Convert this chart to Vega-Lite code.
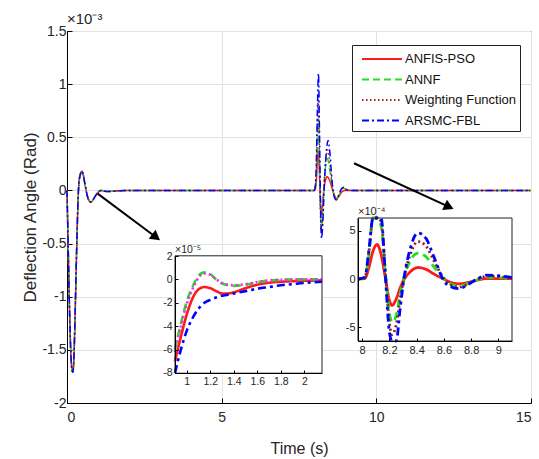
{
  "$schema": "https://vega.github.io/schema/vega-lite/v6.json",
  "width": 464,
  "height": 372,
  "autosize": {"type": "none"},
  "padding": {"left": 67, "top": 31, "right": 8, "bottom": 56},
  "config": {
    "font": "Liberation Sans",
    "view": {"stroke": "black", "strokeWidth": 1},
    "axis": {"labelFont": "Liberation Sans", "titleFont": "Liberation Sans", "labelColor": "#262626", "titleColor": "#262626", "titleFontWeight": "normal", "domainColor": "black", "tickColor": "black"}
  },
  "datasets": {
    "main": [
      {"series":"ANFIS-PSO","t":0,"v":0},{"series":"ANFIS-PSO","t":0.04,"v":-0.55},{"series":"ANFIS-PSO","t":0.08,"v":-1.1},{"series":"ANFIS-PSO","t":0.12,"v":-1.5},{"series":"ANFIS-PSO","t":0.16,"v":-1.69},{"series":"ANFIS-PSO","t":0.19,"v":-1.71},{"series":"ANFIS-PSO","t":0.22,"v":-1.6},{"series":"ANFIS-PSO","t":0.26,"v":-1.2},{"series":"ANFIS-PSO","t":0.3,"v":-0.7},{"series":"ANFIS-PSO","t":0.34,"v":-0.25},{"series":"ANFIS-PSO","t":0.38,"v":0.05},{"series":"ANFIS-PSO","t":0.43,"v":0.15},{"series":"ANFIS-PSO","t":0.48,"v":0.18},{"series":"ANFIS-PSO","t":0.53,"v":0.14},{"series":"ANFIS-PSO","t":0.58,"v":0.06},{"series":"ANFIS-PSO","t":0.64,"v":-0.03},{"series":"ANFIS-PSO","t":0.7,"v":-0.09},{"series":"ANFIS-PSO","t":0.77,"v":-0.11},{"series":"ANFIS-PSO","t":0.84,"v":-0.09},{"series":"ANFIS-PSO","t":0.9,"v":-0.06},{"series":"ANFIS-PSO","t":1.0,"v":-0.02},{"series":"ANFIS-PSO","t":1.1,"v":0},{"series":"ANFIS-PSO","t":1.3,"v":-0.01},{"series":"ANFIS-PSO","t":1.6,"v":-0.005},{"series":"ANFIS-PSO","t":2.0,"v":0},
      {"series":"ANFIS-PSO","t":8.0,"v":0},{"series":"ANFIS-PSO","t":8.05,"v":0.05},{"series":"ANFIS-PSO","t":8.09,"v":0.25},{"series":"ANFIS-PSO","t":8.12,"v":0.37},{"series":"ANFIS-PSO","t":8.15,"v":0.25},{"series":"ANFIS-PSO","t":8.18,"v":0},{"series":"ANFIS-PSO","t":8.21,"v":-0.23},{"series":"ANFIS-PSO","t":8.25,"v":-0.17},{"series":"ANFIS-PSO","t":8.3,"v":0},{"series":"ANFIS-PSO","t":8.36,"v":0.1},{"series":"ANFIS-PSO","t":8.41,"v":0.13},{"series":"ANFIS-PSO","t":8.48,"v":0.1},{"series":"ANFIS-PSO","t":8.56,"v":0.03},{"series":"ANFIS-PSO","t":8.64,"v":-0.04},{"series":"ANFIS-PSO","t":8.72,"v":-0.08},{"series":"ANFIS-PSO","t":8.8,"v":-0.05},{"series":"ANFIS-PSO","t":8.9,"v":-0.01},{"series":"ANFIS-PSO","t":9.0,"v":0},{"series":"ANFIS-PSO","t":15,"v":0},

      {"series":"ANNF","t":0,"v":0},{"series":"ANNF","t":0.04,"v":-0.55},{"series":"ANNF","t":0.08,"v":-1.1},{"series":"ANNF","t":0.12,"v":-1.5},{"series":"ANNF","t":0.16,"v":-1.69},{"series":"ANNF","t":0.19,"v":-1.71},{"series":"ANNF","t":0.22,"v":-1.6},{"series":"ANNF","t":0.26,"v":-1.2},{"series":"ANNF","t":0.3,"v":-0.7},{"series":"ANNF","t":0.34,"v":-0.25},{"series":"ANNF","t":0.38,"v":0.05},{"series":"ANNF","t":0.43,"v":0.15},{"series":"ANNF","t":0.48,"v":0.18},{"series":"ANNF","t":0.53,"v":0.14},{"series":"ANNF","t":0.58,"v":0.06},{"series":"ANNF","t":0.64,"v":-0.03},{"series":"ANNF","t":0.7,"v":-0.09},{"series":"ANNF","t":0.77,"v":-0.11},{"series":"ANNF","t":0.84,"v":-0.09},{"series":"ANNF","t":0.9,"v":-0.06},{"series":"ANNF","t":1.0,"v":-0.02},{"series":"ANNF","t":1.1,"v":0},{"series":"ANNF","t":1.3,"v":-0.01},{"series":"ANNF","t":1.6,"v":-0.005},{"series":"ANNF","t":2.0,"v":0},
      {"series":"ANNF","t":8.0,"v":0},{"series":"ANNF","t":8.05,"v":0.1},{"series":"ANNF","t":8.09,"v":0.45},{"series":"ANNF","t":8.12,"v":0.68},{"series":"ANNF","t":8.15,"v":0.4},{"series":"ANNF","t":8.18,"v":0},{"series":"ANNF","t":8.22,"v":-0.38},{"series":"ANNF","t":8.26,"v":-0.25},{"series":"ANNF","t":8.31,"v":0.05},{"series":"ANNF","t":8.37,"v":0.25},{"series":"ANNF","t":8.42,"v":0.3},{"series":"ANNF","t":8.49,"v":0.2},{"series":"ANNF","t":8.56,"v":0.06},{"series":"ANNF","t":8.63,"v":-0.04},{"series":"ANNF","t":8.7,"v":-0.08},{"series":"ANNF","t":8.78,"v":-0.05},{"series":"ANNF","t":8.86,"v":0},{"series":"ANNF","t":8.94,"v":0.02},{"series":"ANNF","t":9.02,"v":0.01},{"series":"ANNF","t":9.15,"v":0},{"series":"ANNF","t":15,"v":0},

      {"series":"Weighting Function","t":0,"v":0},{"series":"Weighting Function","t":0.04,"v":-0.55},{"series":"Weighting Function","t":0.08,"v":-1.1},{"series":"Weighting Function","t":0.12,"v":-1.5},{"series":"Weighting Function","t":0.16,"v":-1.69},{"series":"Weighting Function","t":0.19,"v":-1.71},{"series":"Weighting Function","t":0.22,"v":-1.6},{"series":"Weighting Function","t":0.26,"v":-1.2},{"series":"Weighting Function","t":0.3,"v":-0.7},{"series":"Weighting Function","t":0.34,"v":-0.25},{"series":"Weighting Function","t":0.38,"v":0.05},{"series":"Weighting Function","t":0.43,"v":0.15},{"series":"Weighting Function","t":0.48,"v":0.18},{"series":"Weighting Function","t":0.53,"v":0.14},{"series":"Weighting Function","t":0.58,"v":0.06},{"series":"Weighting Function","t":0.64,"v":-0.03},{"series":"Weighting Function","t":0.7,"v":-0.09},{"series":"Weighting Function","t":0.77,"v":-0.11},{"series":"Weighting Function","t":0.84,"v":-0.09},{"series":"Weighting Function","t":0.9,"v":-0.06},{"series":"Weighting Function","t":1.0,"v":-0.02},{"series":"Weighting Function","t":1.1,"v":0},{"series":"Weighting Function","t":1.3,"v":-0.01},{"series":"Weighting Function","t":1.6,"v":-0.005},{"series":"Weighting Function","t":2.0,"v":0},
      {"series":"Weighting Function","t":8.0,"v":0},{"series":"Weighting Function","t":8.05,"v":0.12},{"series":"Weighting Function","t":8.09,"v":0.55},{"series":"Weighting Function","t":8.12,"v":0.85},{"series":"Weighting Function","t":8.15,"v":0.5},{"series":"Weighting Function","t":8.18,"v":0},{"series":"Weighting Function","t":8.22,"v":-0.4},{"series":"Weighting Function","t":8.26,"v":-0.27},{"series":"Weighting Function","t":8.31,"v":0.05},{"series":"Weighting Function","t":8.37,"v":0.3},{"series":"Weighting Function","t":8.43,"v":0.38},{"series":"Weighting Function","t":8.49,"v":0.27},{"series":"Weighting Function","t":8.56,"v":0.08},{"series":"Weighting Function","t":8.63,"v":-0.04},{"series":"Weighting Function","t":8.7,"v":-0.09},{"series":"Weighting Function","t":8.78,"v":-0.05},{"series":"Weighting Function","t":8.86,"v":0},{"series":"Weighting Function","t":8.94,"v":0.025},{"series":"Weighting Function","t":9.02,"v":0.01},{"series":"Weighting Function","t":9.15,"v":0},{"series":"Weighting Function","t":15,"v":0},

      {"series":"ARSMC-FBL","t":0,"v":0},{"series":"ARSMC-FBL","t":0.04,"v":-0.55},{"series":"ARSMC-FBL","t":0.08,"v":-1.1},{"series":"ARSMC-FBL","t":0.12,"v":-1.5},{"series":"ARSMC-FBL","t":0.16,"v":-1.69},{"series":"ARSMC-FBL","t":0.19,"v":-1.71},{"series":"ARSMC-FBL","t":0.22,"v":-1.6},{"series":"ARSMC-FBL","t":0.26,"v":-1.2},{"series":"ARSMC-FBL","t":0.3,"v":-0.7},{"series":"ARSMC-FBL","t":0.34,"v":-0.25},{"series":"ARSMC-FBL","t":0.38,"v":0.05},{"series":"ARSMC-FBL","t":0.43,"v":0.15},{"series":"ARSMC-FBL","t":0.48,"v":0.18},{"series":"ARSMC-FBL","t":0.53,"v":0.14},{"series":"ARSMC-FBL","t":0.58,"v":0.06},{"series":"ARSMC-FBL","t":0.64,"v":-0.03},{"series":"ARSMC-FBL","t":0.7,"v":-0.09},{"series":"ARSMC-FBL","t":0.77,"v":-0.11},{"series":"ARSMC-FBL","t":0.84,"v":-0.09},{"series":"ARSMC-FBL","t":0.9,"v":-0.06},{"series":"ARSMC-FBL","t":1.0,"v":-0.02},{"series":"ARSMC-FBL","t":1.1,"v":0},{"series":"ARSMC-FBL","t":1.3,"v":-0.01},{"series":"ARSMC-FBL","t":1.6,"v":-0.005},{"series":"ARSMC-FBL","t":2.0,"v":0},
      {"series":"ARSMC-FBL","t":8.0,"v":0},{"series":"ARSMC-FBL","t":8.05,"v":0.15},{"series":"ARSMC-FBL","t":8.09,"v":0.7},{"series":"ARSMC-FBL","t":8.13,"v":1.1},{"series":"ARSMC-FBL","t":8.16,"v":0.6},{"series":"ARSMC-FBL","t":8.19,"v":0},{"series":"ARSMC-FBL","t":8.23,"v":-0.45},{"series":"ARSMC-FBL","t":8.27,"v":-0.3},{"series":"ARSMC-FBL","t":8.32,"v":0.05},{"series":"ARSMC-FBL","t":8.38,"v":0.35},{"series":"ARSMC-FBL","t":8.44,"v":0.47},{"series":"ARSMC-FBL","t":8.5,"v":0.35},{"series":"ARSMC-FBL","t":8.56,"v":0.12},{"series":"ARSMC-FBL","t":8.62,"v":-0.04},{"series":"ARSMC-FBL","t":8.7,"v":-0.09},{"series":"ARSMC-FBL","t":8.78,"v":-0.05},{"series":"ARSMC-FBL","t":8.86,"v":0.01},{"series":"ARSMC-FBL","t":8.94,"v":0.03},{"series":"ARSMC-FBL","t":9.02,"v":0.01},{"series":"ARSMC-FBL","t":9.15,"v":0},{"series":"ARSMC-FBL","t":15,"v":0}
    ],
    "zoom1": [
      {"series":"ANFIS-PSO","t":0.9,"v":-7},{"series":"ANFIS-PSO","t":0.95,"v":-4.9},{"series":"ANFIS-PSO","t":1.0,"v":-3.0},{"series":"ANFIS-PSO","t":1.05,"v":-1.6},{"series":"ANFIS-PSO","t":1.1,"v":-0.85},{"series":"ANFIS-PSO","t":1.15,"v":-0.65},{"series":"ANFIS-PSO","t":1.2,"v":-0.75},{"series":"ANFIS-PSO","t":1.25,"v":-1.0},{"series":"ANFIS-PSO","t":1.3,"v":-1.2},{"series":"ANFIS-PSO","t":1.35,"v":-1.2},{"series":"ANFIS-PSO","t":1.4,"v":-1.1},{"series":"ANFIS-PSO","t":1.5,"v":-0.75},{"series":"ANFIS-PSO","t":1.6,"v":-0.45},{"series":"ANFIS-PSO","t":1.7,"v":-0.28},{"series":"ANFIS-PSO","t":1.8,"v":-0.2},{"series":"ANFIS-PSO","t":1.9,"v":-0.15},{"series":"ANFIS-PSO","t":2.0,"v":-0.12},{"series":"ANFIS-PSO","t":2.15,"v":-0.08},
      {"series":"ANNF","t":0.9,"v":-6},{"series":"ANNF","t":0.95,"v":-3.8},{"series":"ANNF","t":1.0,"v":-1.9},{"series":"ANNF","t":1.05,"v":-0.6},{"series":"ANNF","t":1.1,"v":0.3},{"series":"ANNF","t":1.15,"v":0.6},{"series":"ANNF","t":1.2,"v":0.45},{"series":"ANNF","t":1.25,"v":0},{"series":"ANNF","t":1.3,"v":-0.35},{"series":"ANNF","t":1.35,"v":-0.5},{"series":"ANNF","t":1.4,"v":-0.55},{"series":"ANNF","t":1.5,"v":-0.45},{"series":"ANNF","t":1.6,"v":-0.25},{"series":"ANNF","t":1.7,"v":-0.1},{"series":"ANNF","t":1.8,"v":-0.05},{"series":"ANNF","t":1.9,"v":0},{"series":"ANNF","t":2.0,"v":0},{"series":"ANNF","t":2.15,"v":0},
      {"series":"Weighting Function","t":0.9,"v":-6.2},{"series":"Weighting Function","t":0.95,"v":-4},{"series":"Weighting Function","t":1.0,"v":-2.1},{"series":"Weighting Function","t":1.05,"v":-0.8},{"series":"Weighting Function","t":1.1,"v":0.15},{"series":"Weighting Function","t":1.15,"v":0.5},{"series":"Weighting Function","t":1.2,"v":0.4},{"series":"Weighting Function","t":1.25,"v":0},{"series":"Weighting Function","t":1.3,"v":-0.3},{"series":"Weighting Function","t":1.35,"v":-0.45},{"series":"Weighting Function","t":1.4,"v":-0.5},{"series":"Weighting Function","t":1.5,"v":-0.4},{"series":"Weighting Function","t":1.6,"v":-0.22},{"series":"Weighting Function","t":1.7,"v":-0.08},{"series":"Weighting Function","t":1.8,"v":-0.03},{"series":"Weighting Function","t":1.9,"v":0},{"series":"Weighting Function","t":2.0,"v":0},{"series":"Weighting Function","t":2.15,"v":0},
      {"series":"ARSMC-FBL","t":0.9,"v":-8},{"series":"ARSMC-FBL","t":0.95,"v":-6},{"series":"ARSMC-FBL","t":1.0,"v":-4.4},{"series":"ARSMC-FBL","t":1.05,"v":-3.3},{"series":"ARSMC-FBL","t":1.1,"v":-2.5},{"series":"ARSMC-FBL","t":1.15,"v":-2.0},{"series":"ARSMC-FBL","t":1.2,"v":-1.75},{"series":"ARSMC-FBL","t":1.25,"v":-1.55},{"series":"ARSMC-FBL","t":1.3,"v":-1.4},{"series":"ARSMC-FBL","t":1.35,"v":-1.3},{"series":"ARSMC-FBL","t":1.4,"v":-1.2},{"series":"ARSMC-FBL","t":1.5,"v":-1.0},{"series":"ARSMC-FBL","t":1.6,"v":-0.8},{"series":"ARSMC-FBL","t":1.7,"v":-0.65},{"series":"ARSMC-FBL","t":1.8,"v":-0.5},{"series":"ARSMC-FBL","t":1.9,"v":-0.4},{"series":"ARSMC-FBL","t":2.0,"v":-0.3},{"series":"ARSMC-FBL","t":2.15,"v":-0.2}
    ],
    "zoom2": [
      {"series":"ANFIS-PSO","t":7.97,"v":0},{"series":"ANFIS-PSO","t":8.02,"v":0.05},{"series":"ANFIS-PSO","t":8.05,"v":1.2},{"series":"ANFIS-PSO","t":8.08,"v":2.9},{"series":"ANFIS-PSO","t":8.11,"v":3.6},{"series":"ANFIS-PSO","t":8.14,"v":2.5},{"series":"ANFIS-PSO","t":8.17,"v":0.2},{"series":"ANFIS-PSO","t":8.2,"v":-2.2},{"series":"ANFIS-PSO","t":8.22,"v":-2.75},{"series":"ANFIS-PSO","t":8.25,"v":-2.1},{"series":"ANFIS-PSO","t":8.28,"v":-0.9},{"series":"ANFIS-PSO","t":8.31,"v":0},{"series":"ANFIS-PSO","t":8.35,"v":0.7},{"series":"ANFIS-PSO","t":8.41,"v":1.2},{"series":"ANFIS-PSO","t":8.47,"v":1.0},{"series":"ANFIS-PSO","t":8.53,"v":0.5},{"series":"ANFIS-PSO","t":8.6,"v":0},{"series":"ANFIS-PSO","t":8.65,"v":-0.35},{"series":"ANFIS-PSO","t":8.71,"v":-0.5},{"series":"ANFIS-PSO","t":8.78,"v":-0.35},{"series":"ANFIS-PSO","t":8.85,"v":-0.1},{"series":"ANFIS-PSO","t":8.92,"v":0.05},{"series":"ANFIS-PSO","t":9.0,"v":0.05},{"series":"ANFIS-PSO","t":9.1,"v":0.03},
      {"series":"ANNF","t":7.97,"v":0},{"series":"ANNF","t":8.02,"v":0.1},{"series":"ANNF","t":8.05,"v":2.5},{"series":"ANNF","t":8.08,"v":6.5},{"series":"ANNF","t":8.11,"v":8.5},{"series":"ANNF","t":8.14,"v":5.5},{"series":"ANNF","t":8.17,"v":0.8},{"series":"ANNF","t":8.2,"v":-3.5},{"series":"ANNF","t":8.22,"v":-4.5},{"series":"ANNF","t":8.25,"v":-3.8},{"series":"ANNF","t":8.28,"v":-1.5},{"series":"ANNF","t":8.31,"v":0.3},{"series":"ANNF","t":8.35,"v":1.8},{"series":"ANNF","t":8.41,"v":2.7},{"series":"ANNF","t":8.47,"v":2.3},{"series":"ANNF","t":8.53,"v":1.2},{"series":"ANNF","t":8.6,"v":0},{"series":"ANNF","t":8.65,"v":-0.5},{"series":"ANNF","t":8.71,"v":-0.75},{"series":"ANNF","t":8.78,"v":-0.45},{"series":"ANNF","t":8.85,"v":-0.05},{"series":"ANNF","t":8.92,"v":0.2},{"series":"ANNF","t":9.0,"v":0.15},{"series":"ANNF","t":9.1,"v":0.05},
      {"series":"Weighting Function","t":7.97,"v":0},{"series":"Weighting Function","t":8.02,"v":0.1},{"series":"Weighting Function","t":8.05,"v":2.8},{"series":"Weighting Function","t":8.08,"v":7.5},{"series":"Weighting Function","t":8.11,"v":9.5},{"series":"Weighting Function","t":8.14,"v":6},{"series":"Weighting Function","t":8.17,"v":0.9},{"series":"Weighting Function","t":8.2,"v":-4.5},{"series":"Weighting Function","t":8.22,"v":-5.8},{"series":"Weighting Function","t":8.25,"v":-4.8},{"series":"Weighting Function","t":8.28,"v":-2},{"series":"Weighting Function","t":8.31,"v":0.3},{"series":"Weighting Function","t":8.35,"v":2.4},{"series":"Weighting Function","t":8.41,"v":3.9},{"series":"Weighting Function","t":8.47,"v":3.4},{"series":"Weighting Function","t":8.53,"v":1.8},{"series":"Weighting Function","t":8.6,"v":0.1},{"series":"Weighting Function","t":8.65,"v":-0.6},{"series":"Weighting Function","t":8.71,"v":-0.85},{"series":"Weighting Function","t":8.78,"v":-0.5},{"series":"Weighting Function","t":8.85,"v":0},{"series":"Weighting Function","t":8.92,"v":0.3},{"series":"Weighting Function","t":9.0,"v":0.25},{"series":"Weighting Function","t":9.1,"v":0.1},
      {"series":"ARSMC-FBL","t":7.97,"v":0},{"series":"ARSMC-FBL","t":8.02,"v":0.2},{"series":"ARSMC-FBL","t":8.05,"v":3},{"series":"ARSMC-FBL","t":8.08,"v":8.5},{"series":"ARSMC-FBL","t":8.11,"v":11},{"series":"ARSMC-FBL","t":8.14,"v":6.5},{"series":"ARSMC-FBL","t":8.17,"v":0.5},{"series":"ARSMC-FBL","t":8.2,"v":-5.5},{"series":"ARSMC-FBL","t":8.22,"v":-7.5},{"series":"ARSMC-FBL","t":8.25,"v":-6.5},{"series":"ARSMC-FBL","t":8.28,"v":-3},{"series":"ARSMC-FBL","t":8.31,"v":0.3},{"series":"ARSMC-FBL","t":8.35,"v":3},{"series":"ARSMC-FBL","t":8.41,"v":4.8},{"series":"ARSMC-FBL","t":8.47,"v":4.2},{"series":"ARSMC-FBL","t":8.53,"v":2.2},{"series":"ARSMC-FBL","t":8.6,"v":-0.2},{"series":"ARSMC-FBL","t":8.65,"v":-0.8},{"series":"ARSMC-FBL","t":8.71,"v":-1.0},{"series":"ARSMC-FBL","t":8.78,"v":-0.55},{"series":"ARSMC-FBL","t":8.85,"v":0.05},{"series":"ARSMC-FBL","t":8.92,"v":0.4},{"series":"ARSMC-FBL","t":9.0,"v":0.35},{"series":"ARSMC-FBL","t":9.1,"v":0.15}
    ],
    "arrows": [
      {"id":1,"t":0.99,"v":-0.03,"t2":2.88,"v2":-0.44},
      {"id":2,"t":9.28,"v":0.256,"t2":12.35,"v2":-0.155}
    ]
  },
  "layer": [
    {
      "layer": [
        {
          "data": {"name": "main"},
          "mark": {"type": "line", "strokeWidth": 1.5, "interpolate": "monotone"},
          "encoding": {
            "x": {"field": "t", "type": "quantitative", "scale": {"domain": [0, 15], "nice": false, "zero": false},
              "axis": {"values": [0, 5, 10, 15], "title": "Time (s)", "titleFontSize": 16, "labelFontSize": 14, "grid": true, "gridColor": "#e2e2e2", "tickSize": -5, "labelPadding": 12, "titlePadding": 16, "labelExpr": "replace(datum.label,'\u2212','-')"}},
            "y": {"field": "v", "type": "quantitative", "scale": {"domain": [-2, 1.5], "nice": false, "zero": false},
              "axis": {"values": [-2, -1.5, -1, -0.5, 0, 0.5, 1, 1.5], "format": "~g", "title": "Deflection Angle (Rad)", "titleFontSize": 17, "labelFontSize": 14, "grid": true, "gridColor": "#e2e2e2", "tickSize": -5, "labelPadding": 6, "titlePadding": 2, "labelExpr": "replace(datum.label,'\u2212','-')"}},
            "color": {"field": "series", "type": "nominal",
              "scale": {"domain": ["ANFIS-PSO", "ANNF", "Weighting Function", "ARSMC-FBL"], "range": ["#ff1a1a", "#22e022", "#9c2a1c", "#0000ff"]},
              "legend": {"orient": "none", "legendX": 285, "legendY": 14, "title": null, "fillColor": "white", "strokeColor": "#222", "padding": 3, "symbolType": "M-0.4,0H3.6", "symbolSize": 400, "symbolStrokeWidth": 2, "symbolFillColor": "transparent", "labelOffset": 28, "labelFont": "Liberation Sans", "labelFontSize": 13, "labelColor": "#111", "labelLimit": 300, "rowPadding": 2.5}},
            "strokeDash": {"field": "series", "type": "nominal",
              "scale": {"domain": ["ANFIS-PSO", "ANNF", "Weighting Function", "ARSMC-FBL"], "range": [[1, 0], [7, 4], [1.5, 2.5], [7, 3, 2, 3]]},
              "legend": {"orient": "none", "legendX": 285, "legendY": 14, "title": null, "fillColor": "white", "strokeColor": "#222", "padding": 3, "symbolType": "M-0.4,0H3.6", "symbolSize": 400, "symbolStrokeWidth": 2, "symbolFillColor": "transparent", "labelOffset": 28, "labelFont": "Liberation Sans", "labelFontSize": 13, "labelColor": "#111", "labelLimit": 300, "rowPadding": 2.5}}
          }
        },
        {
          "data": {"name": "arrows"},
          "mark": {"type": "rule", "color": "black", "strokeWidth": 2},
          "encoding": {
            "x": {"field": "t", "type": "quantitative"},
            "y": {"field": "v", "type": "quantitative"},
            "x2": {"field": "t2"},
            "y2": {"field": "v2"}
          }
        },
        {
          "data": {"name": "arrows"},
          "transform": [{"filter": "datum.id == 1"}],
          "mark": {"type": "point", "shape": "triangle-right", "filled": true, "color": "black", "opacity": 1, "size": 130, "angle": 37},
          "encoding": {
            "x": {"field": "t2", "type": "quantitative"},
            "y": {"field": "v2", "type": "quantitative"}
          }
        },
        {
          "data": {"name": "arrows"},
          "transform": [{"filter": "datum.id == 2"}],
          "mark": {"type": "point", "shape": "triangle-right", "filled": true, "color": "black", "opacity": 1, "size": 130, "angle": 25},
          "encoding": {
            "x": {"field": "t2", "type": "quantitative"},
            "y": {"field": "v2", "type": "quantitative"}
          }
        },
        {
          "data": {"values": [{}]},
          "mark": {"type": "text", "text": "×10⁻³", "align": "left", "baseline": "bottom", "dy": -4, "fontSize": 15, "font": "Liberation Sans", "color": "#262626"},
          "encoding": {
            "x": {"datum": 0, "type": "quantitative"},
            "y": {"datum": 1.5, "type": "quantitative"}
          }
        }
      ]
    },
    {
      "layer": [
        {
          "data": {"values": [{}]},
          "mark": {"type": "rect", "fill": "white"},
          "encoding": {
            "x": {"datum": 0.9, "type": "quantitative"},
            "x2": {"datum": 2.15},
            "y": {"datum": -8.02, "type": "quantitative"},
            "y2": {"datum": 2.02}
          }
        },
        {
          "data": {"name": "zoom1"},
          "mark": {"type": "line", "strokeWidth": 2.6, "interpolate": "monotone"},
          "encoding": {
            "x": {"field": "t", "type": "quantitative", "scale": {"domain": [0.9, 2.15], "range": [108, 255], "nice": false, "zero": false, "clamp": true},
              "axis": {"orient": "bottom", "offset": -30, "zindex": 2, "values": [1, 1.2, 1.4, 1.6, 1.8, 2], "format": "~g", "title": null, "grid": false, "labelFontSize": 10.5, "tickSize": -3, "labelPadding": 6, "labelOverlap": false}},
            "y": {"field": "v", "type": "quantitative", "scale": {"domain": [-8.02, 2.02], "range": [342.2, 224.8], "nice": false, "zero": false, "clamp": true},
              "axis": {"orient": "left", "offset": -108, "zindex": 2, "values": [-8, -6, -4, -2, 0, 2], "format": "~g", "title": null, "grid": false, "labelFontSize": 10.5, "tickSize": -3, "labelPadding": 6, "labelOverlap": false, "labelExpr": "replace(datum.label,'\u2212','-')"}},
            "color": {"field": "series", "type": "nominal", "legend": null,
              "scale": {"domain": ["ANFIS-PSO", "ANNF", "Weighting Function", "ARSMC-FBL"], "range": ["#ff1a1a", "#22e022", "#ff22ff", "#0000ff"]}},
            "strokeDash": {"field": "series", "type": "nominal", "legend": null,
              "scale": {"domain": ["ANFIS-PSO", "ANNF", "Weighting Function", "ARSMC-FBL"], "range": [[1, 0], [8, 5], [2, 3], [8, 4, 3, 4]]}}
          }
        },
        {
          "data": {"values": [{}]},
          "mark": {"type": "rect", "fill": null, "stroke": "#222", "strokeWidth": 1},
          "encoding": {
            "x": {"datum": 0.9, "type": "quantitative"},
            "x2": {"datum": 2.15},
            "y": {"datum": -8.02, "type": "quantitative"},
            "y2": {"datum": 2.02}
          }
        },
        {
          "data": {"values": [{}]},
          "mark": {"type": "text", "text": "×10⁻⁵", "align": "left", "baseline": "bottom", "dy": -1, "fontSize": 10.5, "font": "Liberation Sans", "color": "#262626"},
          "encoding": {
            "x": {"datum": 0.9, "type": "quantitative"},
            "y": {"datum": 2.02, "type": "quantitative"}
          }
        }
      ]
    },
    {
      "layer": [
        {
          "data": {"values": [{}]},
          "mark": {"type": "rect", "fill": "white"},
          "encoding": {
            "x": {"datum": 7.97, "type": "quantitative"},
            "x2": {"datum": 9.1},
            "y": {"datum": -6.45, "type": "quantitative"},
            "y2": {"datum": 6.35}
          }
        },
        {
          "data": {"name": "zoom2"},
          "mark": {"type": "line", "strokeWidth": 2.8, "interpolate": "monotone"},
          "encoding": {
            "x": {"field": "t", "type": "quantitative", "scale": {"domain": [7.97, 9.1], "range": [291, 445], "nice": false, "zero": false, "clamp": true},
              "axis": {"orient": "bottom", "offset": -62, "zindex": 2, "values": [8, 8.2, 8.4, 8.6, 8.8, 9], "format": "~g", "title": null, "grid": false, "labelFontSize": 11, "tickSize": -3, "labelPadding": 6, "labelOverlap": false}},
            "y": {"field": "v", "type": "quantitative", "scale": {"domain": [-6.45, 6.35], "range": [310, 187], "nice": false, "zero": false, "clamp": true},
              "axis": {"orient": "left", "offset": -291, "zindex": 2, "values": [-5, 0, 5], "format": "~g", "title": null, "grid": false, "labelFontSize": 11, "tickSize": -3, "labelPadding": 6, "labelOverlap": false, "labelExpr": "replace(datum.label,'\u2212','-')"}},
            "color": {"field": "series", "type": "nominal", "legend": null,
              "scale": {"domain": ["ANFIS-PSO", "ANNF", "Weighting Function", "ARSMC-FBL"], "range": ["#ff1a1a", "#22e022", "#8b2a1c", "#0000ff"]}},
            "strokeDash": {"field": "series", "type": "nominal", "legend": null,
              "scale": {"domain": ["ANFIS-PSO", "ANNF", "Weighting Function", "ARSMC-FBL"], "range": [[1, 0], [8, 5], [2, 3], [8, 4, 3, 4]]}}
          }
        },
        {
          "data": {"values": [{}]},
          "mark": {"type": "rect", "fill": null, "stroke": "#222", "strokeWidth": 1},
          "encoding": {
            "x": {"datum": 7.97, "type": "quantitative"},
            "x2": {"datum": 9.1},
            "y": {"datum": -6.45, "type": "quantitative"},
            "y2": {"datum": 6.35}
          }
        },
        {
          "data": {"values": [{}]},
          "mark": {"type": "text", "text": "×10⁻⁴", "align": "left", "baseline": "bottom", "dy": -1, "fontSize": 11, "font": "Liberation Sans", "color": "#262626"},
          "encoding": {
            "x": {"datum": 7.97, "type": "quantitative"},
            "y": {"datum": 6.35, "type": "quantitative"}
          }
        }
      ]
    }
  ],
  "resolve": {
    "scale": {"x": "independent", "y": "independent", "color": "independent", "strokeDash": "independent"},
    "axis": {"x": "independent", "y": "independent"},
    "legend": {"color": "independent", "strokeDash": "independent"}
  }
}
